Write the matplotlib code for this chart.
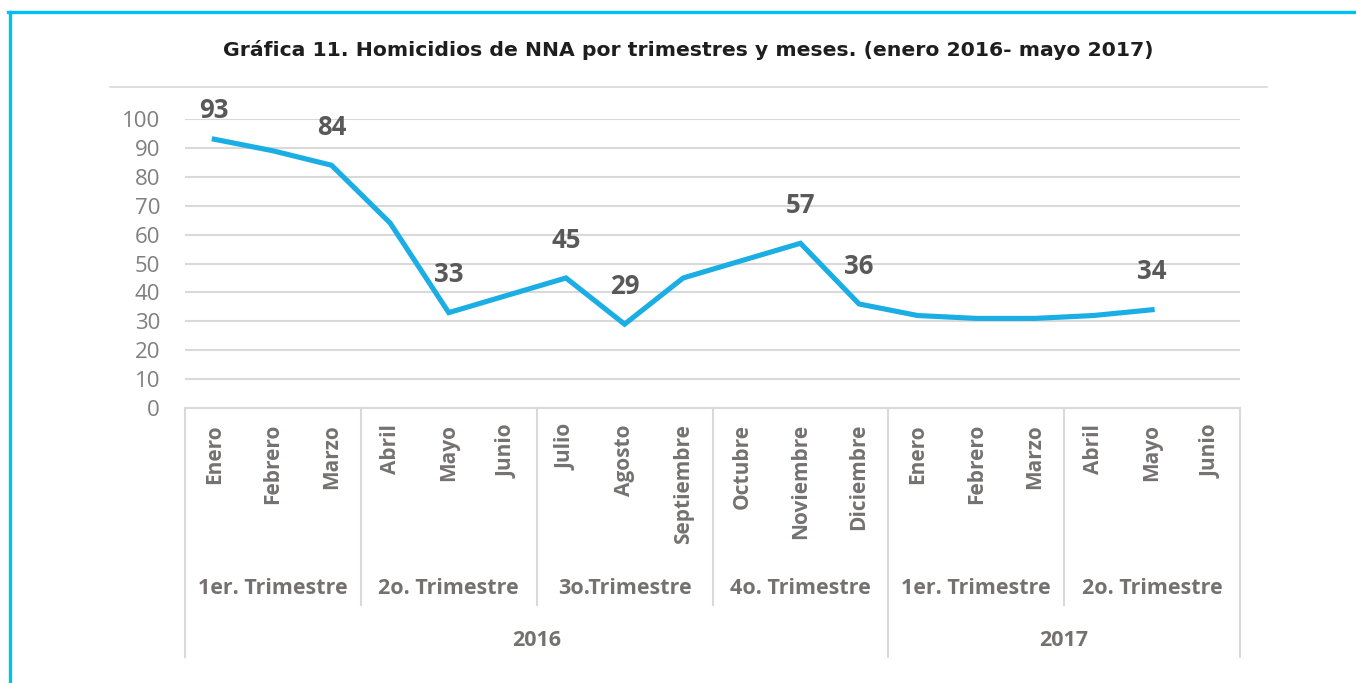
import numpy as np
import matplotlib
matplotlib.use('Agg')
import matplotlib.pyplot as plt
from matplotlib.lines import Line2D
import matplotlib.transforms as mtransforms

# data
months = ['Enero', 'Febrero', 'Marzo', 'Abril', 'Mayo', 'Junio',
          'Julio', 'Agosto', 'Septiembre', 'Octubre', 'Noviembre', 'Diciembre',
          'Enero', 'Febrero', 'Marzo', 'Abril', 'Mayo', 'Junio']
quarters = ['1er. Trimestre', '2o. Trimestre', '3o.Trimestre', '4o. Trimestre',
            '1er. Trimestre', '2o. Trimestre']
years = ['2016', '2017']
months_per_year = [12, 6]
homicidios = [93, 89, 84, 64, 33, 39, 45, 29, 45, 51, 57, 36,
              32, 31, 31, 32, 34, np.nan]
labelled = [0, 2, 4, 6, 7, 10, 11, 16]

W, H = 1356, 683
line_color = '#1BAEE4'
frame_color = '#00C0F3'
grid_color = '#D9D9D9'
text_gray = '#767171'
label_gray = '#595959'

plt.rcParams['font.family'] = ['Open Sans', 'DejaVu Sans']

fig = plt.figure(figsize=(W / 100, H / 100), dpi=100)

def fy(py):
    return 1 - py / H

def fx(px):
    return px / W

ax = fig.add_axes([fx(185), fy(408), fx(1240) - fx(185), fy(119) - fy(408)])
x = np.arange(len(months))
ax.plot(x, homicidios, color=line_color, lw=3.7, solid_joinstyle='miter')
ax.set_xlim(-0.5, len(months) - 0.5)
ax.set_ylim(0, 100)
ax.set_yticks(range(0, 101, 10))
ax.tick_params(axis='y', length=0, pad=18, labelsize=16, labelcolor='#7F7F7F')
ax.set_xticks([])
ax.yaxis.grid(True, color=grid_color, lw=1.5)
ax.set_axisbelow(True)
for s in ['top', 'right', 'left']:
    ax.spines[s].set_visible(False)
ax.spines['bottom'].set_color(grid_color)
ax.spines['bottom'].set_linewidth(1.5)

# data labels, above the point, kept inside the chart area
for i in labelled:
    ax.text(x[i], min(homicidios[i] + 13.1, 103.1), str(homicidios[i]),
            ha='center', va='center', fontsize=18.5, fontweight='bold',
            color=label_gray, clip_on=False)

# multi-level category axis
trans = mtransforms.blended_transform_factory(ax.transData, fig.transFigure)
for i, m in enumerate(months):
    ax.text(i, fy(424), m, transform=trans, rotation=90, ha='center', va='top',
            fontsize=15, fontweight='bold', color=text_gray)

for q, name in enumerate(quarters):
    ax.text(q * 3 + 1, fy(588), name, transform=trans, ha='center', va='center',
            fontsize=15.5, fontweight='bold', color=text_gray)

start = 0
for name, n in zip(years, months_per_year):
    ax.text(start + (n - 1) / 2, fy(640), name, transform=trans, ha='center',
            va='center', fontsize=15.5, fontweight='bold', color=text_gray)
    start += n

for q in range(len(quarters) + 1):
    xb = q * 3 - 0.5
    bottom = 657 if q in (0, 4, 6) else 605
    fig.add_artist(Line2D([xb, xb], [fy(408), fy(bottom)], transform=trans,
                          color=grid_color, lw=1.5))

# thin line above the plot area and the cyan frame
fig.add_artist(Line2D([fx(110), fx(1267)], [fy(87), fy(87)], color=grid_color, lw=1.2))
fig.add_artist(Line2D([fx(9.5), fx(9.5)], [fy(11.5), 0], color=frame_color, lw=2.4))
fig.add_artist(Line2D([fx(8.3), 1], [fy(11.5), fy(11.5)], color=frame_color, lw=2.4))

fig.text(0.5075, fy(50), 'Gráfica 11. Homicidios de NNA por trimestres y meses. (enero 2016- mayo 2017)',
         ha='center', va='center', fontsize=14.7, fontweight='bold', color='#1E1E1E',
         family=['DejaVu Sans'])

fig.savefig('out.png', dpi=100)
